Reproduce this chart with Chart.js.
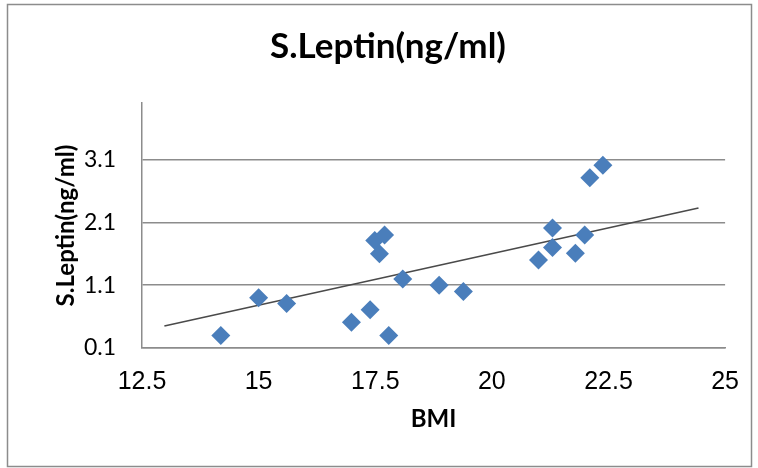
<!DOCTYPE html>
<html>
<head>
<meta charset="utf-8">
<script src="https://cdn.jsdelivr.net/npm/chart.js@4/dist/chart.umd.min.js"></script>
<style>
  html, body { margin: 0; padding: 0; background: #ffffff; }
  #wrap { width: 758px; height: 468px; position: relative; }
</style>
</head>
<body>
<div id="wrap"><canvas id="c" width="758" height="468"></canvas></div>
<script>
const chartTitle = "S.Leptin(ng/ml)";
const xTitle = "BMI";
const yTitle = "S.Leptin(ng/ml)";
const bmi    = [14.19, 15.00, 15.60, 16.99, 17.39, 17.79, 17.49, 17.70, 17.59, 18.09, 18.87, 19.39, 21.00, 21.30, 21.30, 21.79, 21.99, 22.10, 22.38];
const leptin = [0.30, 0.90, 0.81, 0.51, 0.71, 0.30, 1.81, 1.90, 1.60, 1.20, 1.10, 1.00, 1.50, 1.70, 2.01, 1.61, 1.90, 2.81, 3.01];
const trendX = [12.98, 24.43];
const trendY = [0.45, 2.33];
const yTicks = [0.1, 1.1, 2.1, 3.1];
const xTicks = [12.5, 15, 17.5, 20, 22.5, 25];

const points = bmi.map((x, i) => ({ x: x, y: leptin[i] }));
const trend = trendX.map((x, i) => ({ x: x, y: trendY[i] }));

const frame = {
  id: 'frame',
  beforeDraw(chart) {
    const ctx = chart.ctx;
    ctx.save();
    ctx.fillStyle = '#ffffff';
    ctx.fillRect(0, 0, chart.width, chart.height);
    ctx.strokeStyle = '#8c8c8c';
    ctx.lineWidth = 1.5;
    ctx.strokeRect(7.5, 4.5, 744, 462);
    ctx.restore();
  }
};

new Chart(document.getElementById('c'), {
  type: 'scatter',
  data: {
    datasets: [
      {
        label: 'S.Leptin',
        data: points,
        pointStyle: 'rectRot',
        pointRadius: 9.5,
        pointHoverRadius: 9.5,
        backgroundColor: '#4a7ebb',
        borderColor: '#4a7ebb',
        borderWidth: 0,
        order: 1
      },
      {
        label: 'Trend',
        type: 'line',
        data: trend,
        showLine: true,
        pointRadius: 0,
        borderColor: '#4a4a4a',
        borderWidth: 1.6,
        fill: false,
        order: 2
      }
    ]
  },
  options: {
    responsive: false,
    animation: false,
    layout: { padding: { left: 50, right: 32, top: 0, bottom: 0 } },
    plugins: {
      legend: { display: false },
      tooltip: { enabled: false },
      title: {
        display: true,
        text: chartTitle,
        color: '#000000',
        font: { family: 'Lato', size: 35, weight: 'bold', lineHeight: 1.2 },
        padding: { top: 26, bottom: 35 }
      }
    },
    scales: {
      x: {
        type: 'linear',
        min: 12.5,
        max: 25,
        afterBuildTicks(scale) { scale.ticks = xTicks.map(v => ({ value: v })); },
        afterFit(scale) { scale.height = 120; },
        grid: { display: false, drawTicks: false },
        border: { display: true, color: '#8c8c8c', width: 1.5 },
        ticks: {
          color: '#000000',
          font: { family: 'Liberation Sans', size: 25 },
          padding: 19,
          maxRotation: 0,
          callback: v => String(v)
        },
        title: {
          display: true,
          text: xTitle,
          color: '#000000',
          font: { family: 'Lato', size: 24, weight: 'bold', lineHeight: 1.2 },
          padding: { top: 0, bottom: 34 }
        }
      },
      y: {
        type: 'linear',
        min: 0.1,
        max: 4.0,
        afterBuildTicks(scale) { scale.ticks = yTicks.map(v => ({ value: v })); },
        afterFit(scale) { scale.width = 92; },
        grid: { display: true, color: '#8c8c8c', lineWidth: 1.5, drawTicks: false },
        border: { display: true, color: '#8c8c8c', width: 1.5 },
        ticks: {
          color: '#000000',
          font: { family: 'Lato', size: 23 },
          padding: 26,
          callback: v => v.toFixed(1)
        },
        title: {
          display: true,
          text: yTitle,
          color: '#000000',
          font: { family: 'Lato', size: 24, weight: 'bold', lineHeight: 1.2 },
          padding: { top: 2, bottom: 0 }
        }
      }
    }
  },
  plugins: [frame]
});
</script>
</body>
</html>
